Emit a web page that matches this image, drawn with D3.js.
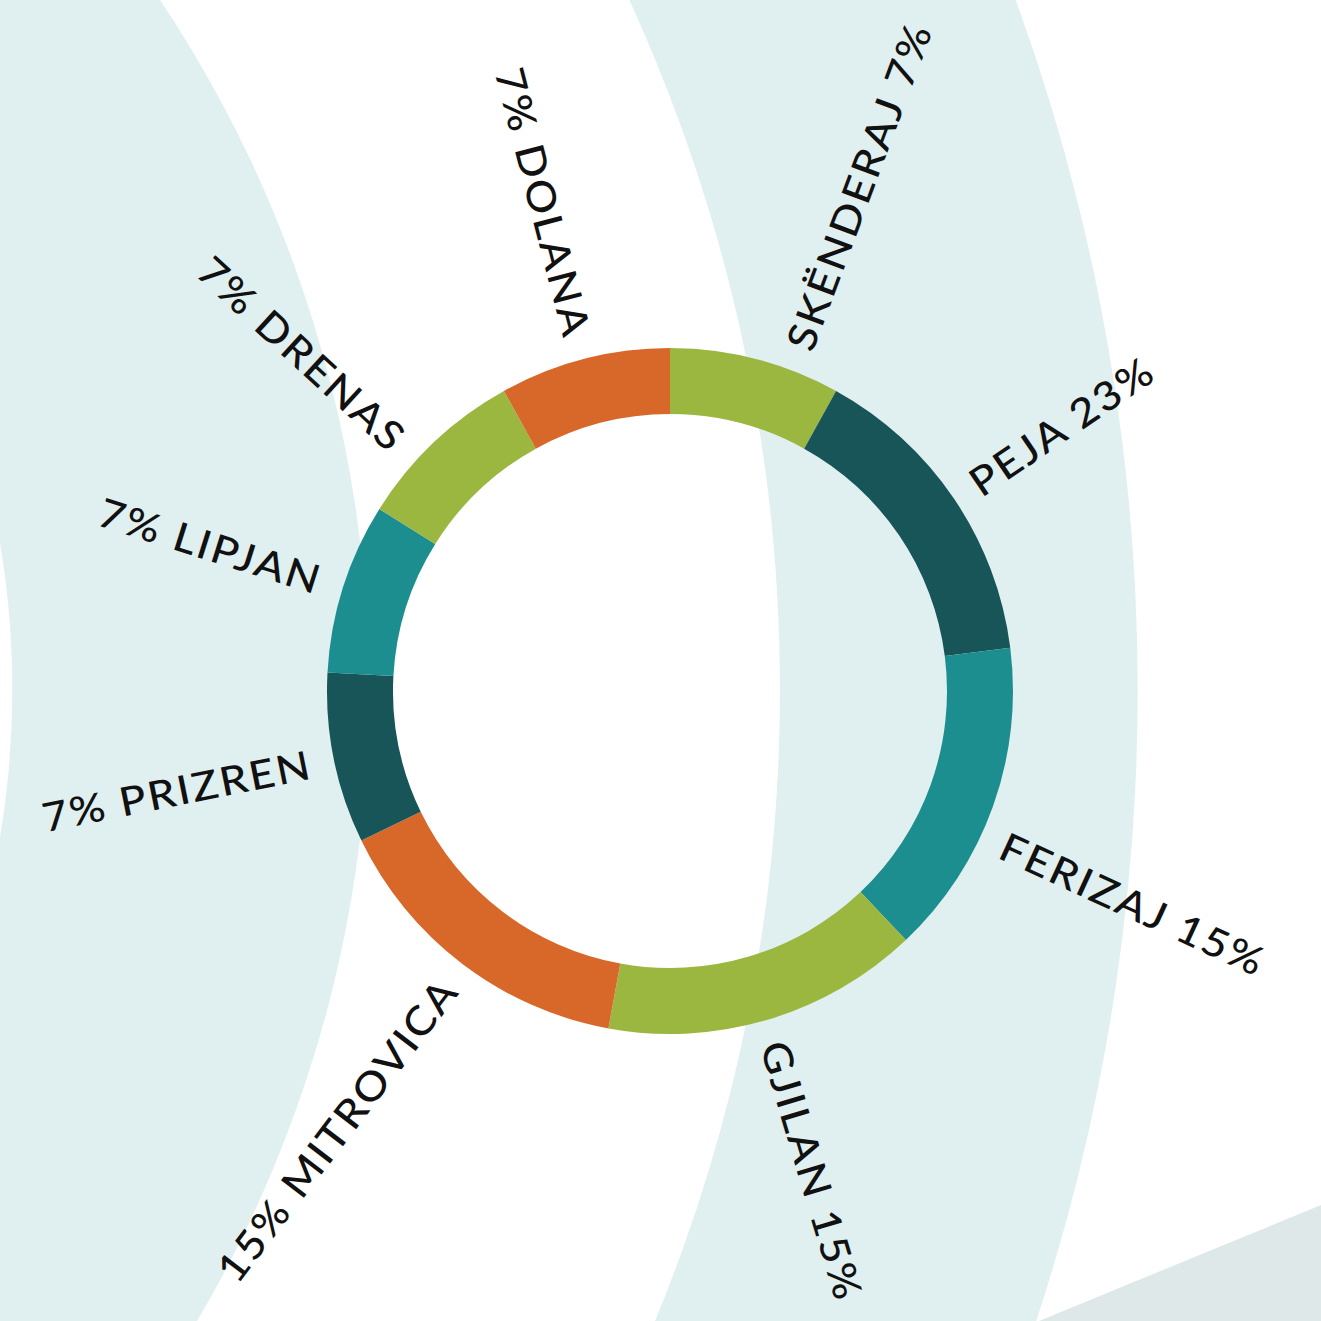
<!DOCTYPE html>
<html>
<head>
<meta charset="utf-8">
<script src="https://cdn.jsdelivr.net/npm/d3@7"></script>
<style>
  html, body { margin: 0; padding: 0; background: #fff; }
  svg { display: block; }
  .label { font-family: "Lato", sans-serif; font-size: 40px; font-weight: 500; fill: #111; letter-spacing: 2px; }
</style>
</head>
<body>
<script>
// Data
var cities = ["SKËNDERAJ", "PEJA", "FERIZAJ", "GJILAN", "MITROVICA", "PRIZREN", "LIPJAN", "DRENAS", "DOLANA"];
var percents = [7, 23, 15, 15, 15, 7, 7, 7, 7];
// the slices are not drawn in proportion to the labels: small ones ~29deg, big ones ~54deg
var arcShares = [7, 13, 13, 13, 13, 7, 7, 7, 7];
var sliceColors = ["#9bb740", "#185558", "#1c8e90", "#9bb740", "#d8672a", "#185558", "#1c8e90", "#9bb740", "#d8672a"];

var svgWidth = 1321;
var svgHeight = 1321;

var cx = 670, cy = 691;
var outerR = 343, innerR = 277;
var labelR = 366;

// hand nudges (degrees) for a few labels, like the original layout
var labelNudge = { "SKËNDERAJ": 6, "FERIZAJ": 5, "DRENAS": -4 };

var svg = d3.select("body")
  .append("svg")
  .attr("width", svgWidth)
  .attr("height", svgHeight);

// Decorative background bands (big rings centred off the left edge)
var bg = svg.append("g").attr("transform", "translate(-875, 690)");
var bandArc = d3.arc().startAngle(0).endAngle(2 * Math.PI);
[[887, 1244], [1655, 2012]].forEach(function(b) {
  bg.append("path")
    .attr("d", bandArc({ innerRadius: b[0], outerRadius: b[1] }))
    .attr("fill", "#e0f0f0");
});

svg.append("path")
  .attr("d", "M1039,1321 L1321,1205 L1321,1321 Z")
  .attr("fill", "#dfe8e9");

// Donut
var rows = cities.map(function(c, i) {
  return { city: c, pct: percents[i], share: arcShares[i], color: sliceColors[i] };
});

var pie = d3.pie().sort(null).value(d => d.share);
var arc = d3.arc().innerRadius(innerR).outerRadius(outerR);

var chartGroup = svg.append("g")
  .attr("transform", `translate(${cx}, ${cy})`);

var slices = pie(rows);

chartGroup.selectAll("path.slice")
  .data(slices)
  .enter()
  .append("path")
  .attr("class", "slice")
  .attr("d", arc)
  .attr("fill", d => d.data.color);

function labelAngle(d) {
  return (d.startAngle + d.endAngle) / 2 + (labelNudge[d.data.city] || 0) * Math.PI / 180;
}

// Radial labels (stretched a bit to get closer to the wide geometric face)
chartGroup.selectAll("text.label")
  .data(slices)
  .enter()
  .append("text")
  .attr("class", "label")
  .attr("transform", function(d) {
    var a = labelAngle(d);
    var x = labelR * Math.sin(a);
    var y = -labelR * Math.cos(a);
    var deg = a * 180 / Math.PI;
    var rot = a < Math.PI ? deg - 90 : deg + 90;
    return `translate(${x}, ${y}) rotate(${rot}) scale(1.1, 1)`;
  })
  .attr("text-anchor", d => (labelAngle(d) < Math.PI ? "start" : "end"))
  .attr("dominant-baseline", "central")
  .text(function(d) {
    var right = labelAngle(d) < Math.PI;
    return right ? d.data.city + " " + d.data.pct + "%" : d.data.pct + "% " + d.data.city;
  });
</script>
</body>
</html>
